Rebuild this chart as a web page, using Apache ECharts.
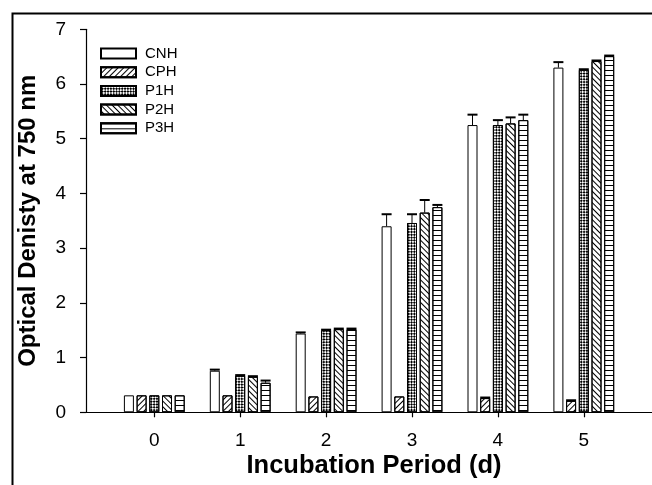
<!DOCTYPE html>
<html>
<head>
<meta charset="utf-8">
<script src="https://cdn.jsdelivr.net/npm/echarts@6/dist/echarts.min.js"></script>
<style>html,body{margin:0;padding:0;background:#fff}#c{width:652px;height:485px}</style>
</head>
<body>
<div id="c"></div>
<script>
// ---- data ----
const days = ['0', '1', '2', '3', '4', '5'];
const seriesNames = ['CNH', 'CPH', 'P1H', 'P2H', 'P3H'];
const cnh = [0.31, 0.76, 1.44, 3.40, 5.25, 6.30];
const cph = [0.31, 0.31, 0.29, 0.29, 0.26, 0.21];
const p1h = [0.31, 0.67, 1.50, 3.46, 5.25, 6.26];
const p2h = [0.31, 0.65, 1.52, 3.65, 5.28, 6.42];
const p3h = [0.31, 0.54, 1.52, 3.75, 5.34, 6.51];
const cnhErr = [0.00, 0.02, 0.02, 0.22, 0.19, 0.10];
const cphErr = [0.00, 0.00, 0.00, 0.00, 0.01, 0.01];
const p1hErr = [0.00, 0.01, 0.01, 0.16, 0.09, 0.01];
const p2hErr = [0.00, 0.01, 0.01, 0.23, 0.11, 0.01];
const p3hErr = [0.00, 0.04, 0.01, 0.04, 0.10, 0.01];
const yTicks = [0, 1, 2, 3, 4, 5, 6, 7];

const values = [cnh, cph, p1h, p2h, p3h];
const errs = [cnhErr, cphErr, p1hErr, p2hErr, p3hErr];

const BAR_W = 10, BAR_GAP = 0.27;
const STEP = BAR_W * (1 + BAR_GAP);
const FONT = '"Liberation Sans", Arial, sans-serif';

const decals = [
  null,
  { symbol: 'rect', symbolSize: 1, color: '#000', dashArrayX: [1, 0], dashArrayY: [1, 3], rotation: -Math.PI / 4 },
  { symbol: 'rect', symbolSize: 1, color: '#000', dashArrayX: [[2, 1.5], [0, 1.75, 2, 0]], dashArrayY: [1.75, 0], rotation: Math.PI / 4 },
  { symbol: 'rect', symbolSize: 1, color: '#000', dashArrayX: [1, 0], dashArrayY: [1, 2.5], rotation: Math.PI / 4 },
  { symbol: 'rect', symbolSize: 1, color: '#000', dashArrayX: [1, 0], dashArrayY: [1, 4], rotation: 0 }
];

const barSeries = seriesNames.map((name, k) => {
  const style = { color: '#fff', borderColor: '#000', borderWidth: 1 };
  if (decals[k]) style.decal = decals[k];
  return {
    name: name, type: 'bar', xAxisIndex: 1, yAxisIndex: 1,
    data: values[k], barWidth: BAR_W, barGap: (BAR_GAP * 100) + '%',
    itemStyle: style, emphasis: { disabled: true }, animation: false
  };
});

const errData = [];
seriesNames.forEach((n, k) => {
  days.forEach((d, i) => { errData.push([i, k, values[k][i], errs[k][i]]); });
});

const errSeries = {
  type: 'custom', xAxisIndex: 1, yAxisIndex: 1, silent: true, animation: false, z: 5,
  data: errData,
  renderItem: function (params, api) {
    const i = api.value(0), k = api.value(1), v = api.value(2), e = api.value(3);
    if (e <= 0) return null;
    const cx = api.coord([i, 0])[0] + (k - 2) * STEP;
    const y0 = api.coord([i, v])[1];
    const y1 = api.coord([i, v + e])[1];
    return {
      type: 'group',
      children: [
        { type: 'line', shape: { x1: cx, y1: y0, x2: cx, y2: y1 }, style: { stroke: '#000', lineWidth: 1 } },
        { type: 'line', shape: { x1: cx - BAR_W / 2, y1: y1, x2: cx + BAR_W / 2, y2: y1 }, style: { stroke: '#000', lineWidth: 2 } }
      ]
    };
  }
};

const chart = echarts.init(document.getElementById('c'), null, { renderer: 'canvas' });
chart.setOption({
  animation: false,
  backgroundColor: '#fff',
  textStyle: { fontFamily: FONT },
  graphic: [{
    type: 'rect', left: 10, top: 11, z: -1,
    shape: { width: 700, height: 500 },
    style: { fill: 'none', stroke: '#000', lineWidth: 2 }
  }],
  legend: {
    orient: 'vertical', left: 100, top: 46, padding: 0,
    itemWidth: 35, itemHeight: 10, itemGap: 3.7, icon: 'rect',
    selectedMode: false,
    textStyle: { fontFamily: FONT, fontSize: 15, color: '#000', padding: [0, 0, 0, 4] },
    data: seriesNames
  },
  grid: [
    { left: 86, top: 29.3, right: -10, bottom: 72.7, containLabel: false, outerBoundsMode: 'none' },
    { left: 111.35, top: 29.3, right: 25.25, bottom: 72.7, containLabel: false, outerBoundsMode: 'none' }
  ],
  xAxis: [
    {
      gridIndex: 0, type: 'value', min: 0, max: 1,
      axisLine: { show: true, lineStyle: { color: '#000', width: 1.2 } },
      axisTick: { show: false }, axisLabel: { show: false }, splitLine: { show: false },
      name: 'Incubation Period (d)', nameLocation: 'middle', nameGap: 41,
      nameTextStyle: { fontFamily: FONT, fontSize: 25.5, fontWeight: 'bold', color: '#000' }
    },
    {
      gridIndex: 1, type: 'category', data: days, boundaryGap: true,
      axisLine: { show: false },
      axisTick: { show: true, alignWithLabel: true, length: 5, lineStyle: { color: '#000', width: 1.2 } },
      axisLabel: { fontFamily: FONT, fontSize: 19, color: '#000', margin: 19 },
      splitLine: { show: false }
    }
  ],
  yAxis: [
    {
      gridIndex: 0, type: 'value', min: 0, max: 7, interval: 1,
      axisLine: { show: true, lineStyle: { color: '#000', width: 1.2 } },
      axisTick: { show: true, length: 6, lineStyle: { color: '#000', width: 1.2 } },
      axisLabel: { fontFamily: FONT, fontSize: 19, color: '#000', margin: 20,
        formatter: v => (yTicks.indexOf(v) >= 0 ? String(v) : '') },
      splitLine: { show: false },
      name: 'Optical Denisty at 750 nm', nameLocation: 'middle', nameGap: 46,
      nameTextStyle: { fontFamily: FONT, fontSize: 24, fontWeight: 'bold', color: '#000' }
    },
    {
      gridIndex: 1, type: 'value', min: 0, max: 7, interval: 1, show: false
    }
  ],
  series: barSeries.concat([errSeries])
});
</script>
</body>
</html>
